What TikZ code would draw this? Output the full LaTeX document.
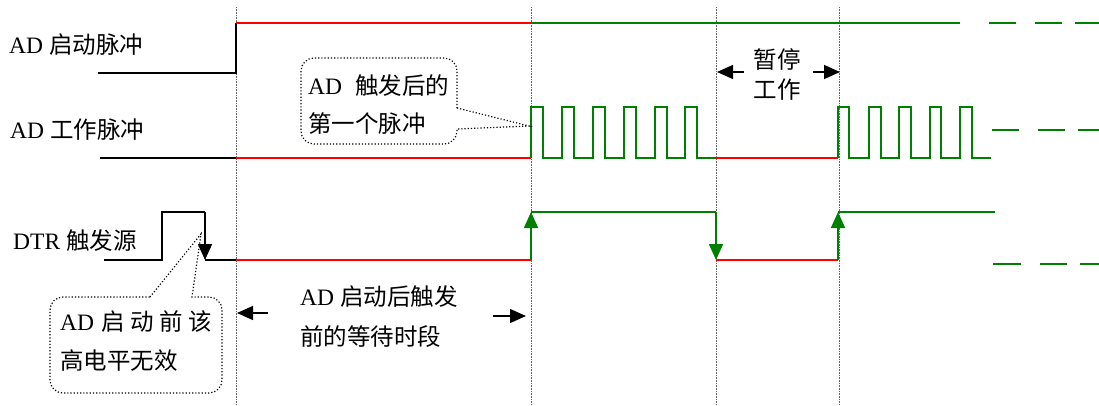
\documentclass[tikz,border=0pt]{standalone}
\usepackage{fontspec}
\setmainfont{Liberation Serif}
\newfontfamily\cjk{Noto Sans CJK SC}
\usetikzlibrary{arrows.meta}
\definecolor{sigred}{RGB}{255,0,0}
\definecolor{siggreen}{RGB}{0,128,0}
\newcommand\zhs[1]{{\cjk #1}}
\begin{document}
\begin{tikzpicture}[x=1pt,y=-1pt,
  sig/.style={line width=1.7pt, line join=miter},
  blk/.style={sig, black},
  redsig/.style={sig, sigred},
  grn/.style={sig, siggreen},
  guide/.style={densely dotted, gray!80!black, line width=0.6pt},
  bubble/.style={dotted, black, line width=1.2pt},
  lbl/.style={anchor=base west, inner sep=0pt, font=\fontsize{23.5}{28}\selectfont},
  clbl/.style={anchor=base, inner sep=0pt, font=\fontsize{23.5}{28}\selectfont},
  bigtip/.style={-{Triangle[length=16pt,width=14pt]}},
]
\useasboundingbox (0,0) rectangle (1099,405);

% guide lines
\foreach \gx/\gn in {236/ga,531/gb,716.5/gc,839/gd}{
  \coordinate (\gn top) at (\gx,7);
  \coordinate (\gn bot) at (\gx,405);
  \draw[guide] (\gn top) -- (\gn bot);
}

% ---------- AD start pulse ----------
\coordinate (s0) at (98,73);
\coordinate (s1) at (236,73);
\coordinate (s2) at (236,23);
\coordinate (s3) at (531,23);
\coordinate (s4) at (960,23);
\draw[blk] (s0) -- (s1) -- (s2);
\draw[redsig] (s2) -- (s3);
\draw[grn] (s3) -- (s4);
\foreach \a/\b in {989/1016,1035/1062,1075/1099}
  \draw[grn] (\a,23) -- (\b,23);

% ---------- AD work pulse ----------
\coordinate (w0) at (100,158);
\coordinate (w1) at (236,158);
\coordinate (w2) at (531,158);
\coordinate (w3) at (716,158);
\coordinate (w4) at (838,158);
\draw[blk] (w0) -- (w1);
\draw[redsig] (w1) -- (w2);
\draw[grn] (531,158) -- (531,107) -- (543,107) -- (543,158) -- (562,158) -- (562,107) -- (574,107) -- (574,158)
  -- (593,158) -- (593,107) -- (605,107) -- (605,158) -- (624,158) -- (624,107) -- (636,107) -- (636,158)
  -- (655,158) -- (655,107) -- (667,107) -- (667,158) -- (685,158) -- (685,107) -- (697,107) -- (697,158)
  -- (716,158);
\draw[redsig] (w3) -- (w4);
\draw[grn] (838,158) -- (838,107) -- (849,107) -- (849,158) -- (869,158) -- (869,107) -- (881,107) -- (881,158)
  -- (899,158) -- (899,107) -- (911,107) -- (911,158) -- (930,158) -- (930,107) -- (941,107) -- (941,158)
  -- (960,158) -- (960,107) -- (972,107) -- (972,158) -- (991,158);
\foreach \a/\b in {992/1019,1038/1065,1078/1099}
  \draw[grn] (\a,130) -- (\b,130);

% ---------- DTR ----------
\coordinate (d0) at (104,260);
\coordinate (d1) at (162,260);
\coordinate (d2) at (162,212);
\coordinate (d3) at (205,212);
\coordinate (d4) at (205,260);
\coordinate (d5) at (236,260);
\coordinate (d6) at (531,260);
\coordinate (d7) at (531,212);
\coordinate (d8) at (716,212);
\coordinate (d9) at (716,260);
\coordinate (d10) at (838,260);
\coordinate (d11) at (838,212);
\coordinate (d12) at (995,212);
\draw[blk] (d0) -- (d1) -- (d2) -- (d3);
\draw[blk, bigtip] (d3) -- (d4);
\draw[blk] (d4) -- (d5);
\draw[redsig] (d5) -- (d6);
\draw[grn, bigtip] (d6) -- (d7);
\draw[grn] (d7) -- (d8);
\draw[grn, bigtip] (d8) -- (d9);
\draw[redsig] (d9) -- (d10);
\draw[grn, bigtip] (d10) -- (d11);
\draw[grn] (d11) -- (d12);
\foreach \a/\b in {993/1021,1040/1067,1080/1099}
  \draw[grn] (\a,264) -- (\b,264);

% ---------- labels ----------
\node[lbl] (lab1) at (9,53) {AD \zhs{启动脉冲}};
\node[lbl] (lab2) at (10,138.5) {AD \zhs{工作脉冲}};
\node[lbl] (lab3) at (13,249) {DTR \zhs{触发源}};

% ---------- callout 1 ----------
\draw[bubble] (457,108) -- (529,126) -- (457,129) [rounded corners=13pt] -- (457,144) -- (301,144) -- (301,58) -- (457,58) -- (457,108);
\node[lbl] (c1a) at (308,94) {AD\hspace{13pt}\zhs{触发后的}};
\node[lbl] (c1b) at (308,132.5) {\zhs{第一个脉冲}};

% ---------- callout 2 ----------
\draw[bubble] (150,297) -- (201,234) -- (192,297) [rounded corners=13pt] -- (222,297) -- (222,393) -- (50,393) -- (50,297) -- (150,297);
\node[lbl] (c2a) at (60,330) {AD\hspace{7pt}\zhs{启}\hspace{5.5pt}\zhs{动}\hspace{5.5pt}\zhs{前}\hspace{5.5pt}\zhs{该}};
\node[lbl] (c2b) at (60,369) {\zhs{高电平无效}};

% ---------- pause interval ----------
\coordinate (p1) at (744,72);
\coordinate (p2) at (717,72);
\coordinate (p3) at (813,72);
\coordinate (p4) at (840,72);
\draw[blk, line width=1.4pt, bigtip] (p1) -- (p2);
\draw[blk, line width=1.4pt, bigtip] (p3) -- (p4);
\node[clbl] (pa) at (777,68) {\zhs{暂停}};
\node[clbl] (pb) at (777,98) {\zhs{工作}};

% ---------- waiting interval ----------
\coordinate (q1) at (268,313);
\coordinate (q2) at (237,313);
\coordinate (q3) at (493,316);
\coordinate (q4) at (526,316);
\draw[blk, line width=1.4pt, bigtip] (q1) -- (q2);
\draw[blk, line width=1.4pt, bigtip] (q3) -- (q4);
\node[lbl] (wa) at (300,305) {AD \zhs{启动后触发}};
\node[lbl] (wb) at (300,345) {\zhs{前的等待时段}};
\end{tikzpicture}
\end{document}
